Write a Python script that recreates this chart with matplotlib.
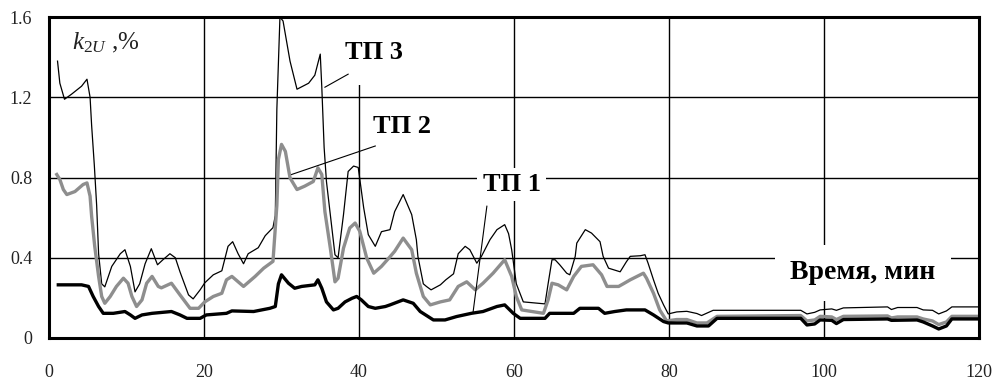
import matplotlib
matplotlib.use("Agg")
import matplotlib.pyplot as plt

plt.rcParams['font.family'] = ['Liberation Serif', 'DejaVu Serif']
plt.rcParams['mathtext.fontset'] = 'custom'
plt.rcParams['mathtext.it'] = 'Liberation Serif:italic'
plt.rcParams['mathtext.rm'] = 'Liberation Serif'

# ---- data (time in minutes, k2U in %) ----
t3_x = [1.1, 1.4, 2.0, 2.9, 4.2, 4.9, 5.3, 5.5, 5.85, 6.15, 6.4, 6.8, 7.2, 8.1, 9.2, 9.8, 10.5, 11.1,
        11.7, 12.4, 13.2, 14.0, 14.7, 15.6, 16.3, 16.9, 18.0, 18.6, 19.5, 20.1, 21.2, 22.3, 23.1, 23.7,
        24.4, 25.1, 25.7, 27.0, 27.9, 28.9, 29.2, 29.4, 29.8, 30.2, 31.1, 32.0, 33.5, 34.3, 35.0, 35.2,
        35.5, 35.8, 36.3, 36.9, 37.3, 38.0, 38.6, 39.3, 39.9, 40.6, 41.2, 42.1, 42.9, 44.0, 44.6, 45.7,
        46.8, 47.4, 47.6, 48.3, 48.7, 49.3, 50.5, 51.2, 52.2, 52.8, 53.7, 54.3, 55.2, 55.8, 56.9, 57.8,
        58.8, 59.3, 59.7, 60.3, 61.2, 64.0, 64.4, 64.9, 65.3, 65.9, 66.8, 67.2, 67.9, 68.1, 69.2, 70.0,
        71.1, 71.5, 72.2, 73.7, 74.5, 75.0, 76.3, 76.9, 77.3, 78.0, 78.6, 79.3, 79.9, 81.0, 82.3, 83.6,
        84.2, 84.9, 85.7, 97.0, 97.8, 98.8, 99.5, 101.0, 101.6, 102.5, 108.2, 108.7, 109.5, 112.0, 112.8,
        114.0, 114.8, 115.8, 116.5, 120.0]
t3_y = [1.38, 1.27, 1.19, 1.215, 1.255, 1.29, 1.2, 1.06, 0.86, 0.66, 0.42, 0.27, 0.255, 0.357, 0.42, 0.44,
        0.357, 0.23, 0.27, 0.37, 0.445, 0.365, 0.39, 0.42, 0.40, 0.33, 0.215, 0.195, 0.24, 0.275, 0.315,
        0.335, 0.457, 0.48, 0.42, 0.37, 0.42, 0.45, 0.51, 0.55, 0.61, 1.14, 1.60, 1.58, 1.38, 1.24, 1.27,
        1.31, 1.415, 1.25, 0.95, 0.78, 0.615, 0.415, 0.40, 0.615, 0.83, 0.857, 0.85, 0.65, 0.515, 0.457,
        0.53, 0.54, 0.63, 0.715, 0.615, 0.49, 0.407, 0.27, 0.257, 0.24, 0.265, 0.29, 0.32, 0.42, 0.457,
        0.44, 0.373, 0.407, 0.49, 0.54, 0.565, 0.52, 0.44, 0.27, 0.18, 0.17, 0.27, 0.39, 0.39, 0.365,
        0.323, 0.315, 0.407, 0.473, 0.54, 0.523, 0.48, 0.407, 0.348, 0.33, 0.38, 0.407, 0.41, 0.415,
        0.373, 0.29, 0.223, 0.165, 0.12, 0.13, 0.133, 0.122, 0.112, 0.124, 0.138, 0.138, 0.12, 0.128,
        0.14, 0.145, 0.138, 0.15, 0.155, 0.142, 0.152, 0.152, 0.14, 0.138, 0.12, 0.135, 0.155, 0.155]

t2_x = [1.0, 1.4, 1.85, 2.3, 3.35, 4.4, 4.9, 5.3, 5.5, 5.9, 6.4, 6.8, 7.2, 7.9, 8.7, 9.6, 10.2, 10.7,
        11.3, 12.0, 12.6, 13.3, 14.1, 14.5, 15.8, 16.9, 18.2, 19.3, 20.1, 21.2, 22.3, 22.9, 23.6, 25.1,
        26.6, 27.7, 28.9, 29.4, 29.6, 30.0, 30.5, 31.1, 32.0, 33.0, 34.1, 34.7, 35.2, 35.6, 36.3, 36.9,
        37.3, 38.0, 38.8, 39.5, 40.1, 41.0, 41.9, 42.9, 44.0, 44.6, 45.7, 46.8, 47.4, 48.3, 49.2, 50.5,
        51.7, 52.8, 53.9, 55.0, 56.0, 57.3, 58.8, 59.7, 60.3, 61.0, 63.8, 64.4, 64.9, 65.7, 66.8, 67.7,
        68.7, 70.2, 71.3, 72.0, 73.5, 74.1, 75.0, 76.7, 77.1, 78.0, 78.8, 79.7, 81.0, 82.3, 83.6, 84.9,
        86.2, 97.0, 97.8, 98.8, 99.5, 101.0, 101.6, 102.5, 108.2, 108.7, 109.5, 112.0, 112.8, 114.0,
        114.8, 115.8, 116.5, 120.0]
t2_y = [0.815, 0.79, 0.74, 0.715, 0.73, 0.765, 0.773, 0.707, 0.607, 0.457, 0.307, 0.207, 0.173, 0.207,
        0.257, 0.298, 0.273, 0.207, 0.157, 0.19, 0.273, 0.307, 0.257, 0.25, 0.273, 0.215, 0.148, 0.148,
        0.18, 0.207, 0.223, 0.29, 0.307, 0.257, 0.307, 0.348, 0.382, 0.66, 0.89, 0.965, 0.93, 0.798,
        0.74, 0.757, 0.78, 0.848, 0.815, 0.63, 0.448, 0.28, 0.298, 0.448, 0.548, 0.573, 0.532, 0.398,
        0.323, 0.357, 0.405, 0.432, 0.498, 0.44, 0.323, 0.207, 0.165, 0.18, 0.19, 0.257, 0.28, 0.24,
        0.273, 0.323, 0.39, 0.307, 0.207, 0.14, 0.123, 0.19, 0.273, 0.265, 0.24, 0.307, 0.357, 0.365,
        0.315, 0.257, 0.257, 0.27, 0.29, 0.323, 0.298, 0.223, 0.14, 0.085, 0.092, 0.092, 0.075, 0.075,
        0.108, 0.112, 0.085, 0.09, 0.108, 0.105, 0.092, 0.108, 0.11, 0.1, 0.105, 0.105, 0.095, 0.085,
        0.067, 0.08, 0.108, 0.108]

t1_x = [1.2, 4.2, 5.1, 5.7, 6.4, 7.0, 8.3, 9.8, 10.5, 11.1, 12.0, 13.3, 15.8, 16.9, 17.8, 19.5, 20.3,
        22.9, 23.6, 26.4, 28.5, 29.2, 29.6, 30.0, 30.9, 31.7, 32.6, 34.3, 34.7, 35.2, 35.8, 36.7, 37.3,
        38.2, 39.1, 39.7, 40.3, 41.2, 42.1, 43.4, 44.0, 45.7, 47.0, 47.9, 49.6, 51.1, 52.6, 54.5, 56.0,
        57.8, 58.8, 59.9, 60.8, 64.0, 64.6, 67.7, 68.5, 70.9, 71.7, 73.0, 74.5, 76.9, 78.0, 79.3, 79.9,
        82.3, 83.6, 85.1, 86.2, 97.0, 97.8, 98.8, 99.5, 101.0, 101.6, 102.5, 108.2, 108.7, 112.0, 112.8,
        114.0, 114.8, 115.8, 116.5, 120.0]
t1_y = [0.265, 0.265, 0.257, 0.207, 0.157, 0.123, 0.123, 0.132, 0.115, 0.098, 0.115, 0.123, 0.132,
        0.115, 0.098, 0.098, 0.115, 0.123, 0.135, 0.132, 0.148, 0.157, 0.27, 0.315, 0.273, 0.248, 0.257,
        0.265, 0.29, 0.248, 0.18, 0.14, 0.148, 0.18, 0.198, 0.207, 0.19, 0.157, 0.148, 0.157, 0.165,
        0.19, 0.173, 0.132, 0.09, 0.09, 0.107, 0.123, 0.132, 0.157, 0.165, 0.123, 0.098, 0.098, 0.123,
        0.123, 0.148, 0.148, 0.123, 0.132, 0.14, 0.14, 0.115, 0.082, 0.075, 0.075, 0.06, 0.06, 0.098,
        0.098, 0.065, 0.07, 0.09, 0.088, 0.072, 0.092, 0.095, 0.088, 0.09, 0.08, 0.06, 0.045, 0.06,
        0.095, 0.095]

x_ticks = [0, 20, 40, 60, 80, 100, 120]
y_ticks = [0, 0.4, 0.8, 1.2, 1.6]
y_tick_labels = ['0', '0.4', '0.8', '1.2', '1.6']

label_names = ['ТП 3', 'ТП 2', 'ТП 1']
label_pos = [(41.9, 1.425), (45.5, 1.055), (59.7, 0.765)]
leader_from = [(38.6, 1.315), (42.1, 0.957), (56.5, 0.657)]
leader_to = [(35.6, 1.25), (31.3, 0.815), (54.7, 0.123)]
label_pads = [0.8, 0.3, 0.2]

fig = plt.figure(figsize=(9.95, 3.83), dpi=100)
ax = fig.add_axes([49/995, 1-338/383, (979-49)/995, (338-17)/383])

ax.set_xlim(0, 120)
ax.set_ylim(0, 1.6)
ax.set_xticks(x_ticks)
ax.set_yticks(y_ticks)
ax.set_yticklabels(y_tick_labels)
ax.tick_params(axis='both', length=0, labelsize=13, colors='#222222')
ax.tick_params(axis='y', pad=12)
ax.tick_params(axis='x', pad=19)
ax.grid(True, color='black', linewidth=1.0, zorder=1)
ax.set_axisbelow(True)
for s in ax.spines.values():
    s.set_linewidth(2.2)
    s.set_zorder(10)

ax.plot(t3_x, t3_y, color='black', linewidth=0.9, zorder=4)
ax.plot(t2_x, t2_y, color='#8e8e8e', linewidth=2.4, zorder=5)
ax.plot(t1_x, t1_y, color='black', linewidth=2.4, zorder=6)

for name, pos, p0, p1, pad in zip(label_names, label_pos, leader_from, leader_to, label_pads):
    ax.text(pos[0], pos[1], name, ha='center', va='center', fontsize=19, fontweight='bold',
            color='black', zorder=3,
            bbox=dict(boxstyle='square,pad=%g' % pad, facecolor='white', edgecolor='none'))
    ax.plot([p0[0], p1[0]], [p0[1], p1[1]], color='black', linewidth=0.8, zorder=7)

ax.text(105.0, 0.325, 'Время, мин', ha='center', va='center', fontsize=20, fontweight='bold',
        color='black', zorder=3,
        bbox=dict(boxstyle='square,pad=0.55', facecolor='white', edgecolor='none'))

ax.text(3.0, 1.44, r'$k_{2U}$ ,%', ha='left', va='baseline', fontsize=18, color='#222222', zorder=3)

fig.savefig('out.png', dpi=100)
